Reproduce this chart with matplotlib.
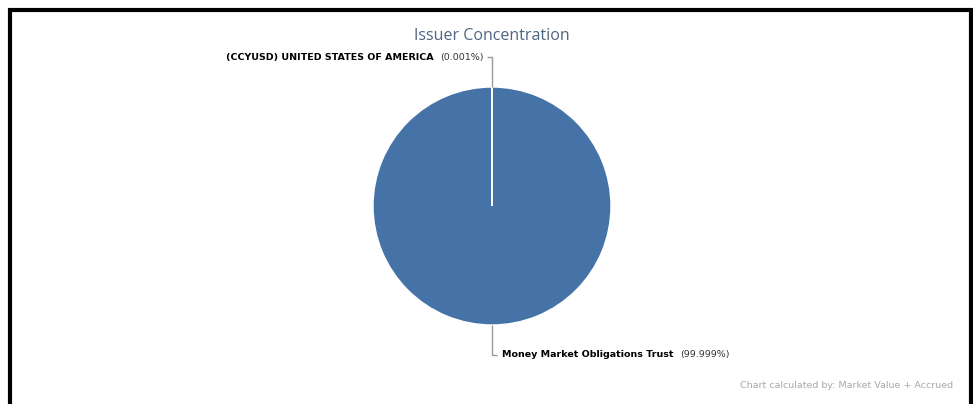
import matplotlib
matplotlib.use("Agg")
import matplotlib.pyplot as plt
from matplotlib.patches import Rectangle
import numpy as np

# ---- data ----
issuers = ["(CCYUSD) UNITED STATES OF AMERICA", "Money Market Obligations Trust"]
shares = [0.001, 99.999]
share_labels = ["(0.001%)", "(99.999%)"]
title = "Issuer Concentration"
footer = "Chart calculated by: Market Value + Accrued"

W, H = 973, 404
fig = plt.figure(figsize=(W / 100, H / 100), dpi=100)
fig.patch.set_facecolor("white")

# frame
fig.add_artist(Rectangle((10 / W, -0.1), (W - 12) / W, (H - 10 + 40) / H,
                         transform=fig.transFigure, fill=False, edgecolor="black",
                         linewidth=3.0))

# pie axes: centre (492, 206) px, radius 119 px
cx, cy, r = 492, 206, 119
ax = fig.add_axes([(cx - r) / W, (H - cy - r) / H, 2 * r / W, 2 * r / H])

wedges, _ = ax.pie(shares, startangle=90, counterclock=False, radius=1,
                   colors=["#4673a7", "#4673a7"],
                   wedgeprops=dict(edgecolor="white", linewidth=1.0))
ax.set_xlim(-1, 1)
ax.set_ylim(-1, 1)
ax.set_aspect("equal")
ax.axis("off")

fig.text(cx / W, 1 - 36 / H, title, ha="center", va="center",
         fontsize=11.5, color="#4f6582", family="Open Sans")

px = 1.0 / r  # one pixel in data units
fig.canvas.draw()
renderer = fig.canvas.get_renderer()

for i, w in enumerate(wedges):
    ang = np.deg2rad((w.theta1 + w.theta2) / 2)
    x0, y0 = np.cos(ang), np.sin(ang)
    up = y0 > 0
    dy = 30 * px if up else -30 * px
    dx = -5 * px if up else 5 * px
    ax.plot([x0, x0, x0 + dx], [y0, y0 + dy, y0 + dy], color="#9a9a9a",
            lw=1.0, clip_on=False, solid_capstyle="butt")
    tx = x0 + dx + (-3 * px if up else 5 * px)
    ty = y0 + dy
    if up:
        t2 = ax.text(tx, ty, share_labels[i], ha="right", va="center",
                     fontsize=6.8, color="#333333", clip_on=False)
        bb = t2.get_window_extent(renderer)
        xl = ax.transData.inverted().transform((bb.x0 - 7, 0))[0]
        ax.text(xl, ty, issuers[i], ha="right", va="center", fontsize=6.8,
                fontweight="bold", color="black", clip_on=False)
    else:
        t1 = ax.text(tx, ty, issuers[i], ha="left", va="center", fontsize=6.8,
                     fontweight="bold", color="black", clip_on=False)
        bb = t1.get_window_extent(renderer)
        xr = ax.transData.inverted().transform((bb.x1 + 7, 0))[0]
        ax.text(xr, ty, share_labels[i], ha="left", va="center", fontsize=6.8,
                color="#333333", clip_on=False)

fig.text(953 / W, 1 - 385 / H, footer, ha="right", va="center", fontsize=6.8,
         color="#a8a8a8")

fig.savefig("out.png", dpi=100)
